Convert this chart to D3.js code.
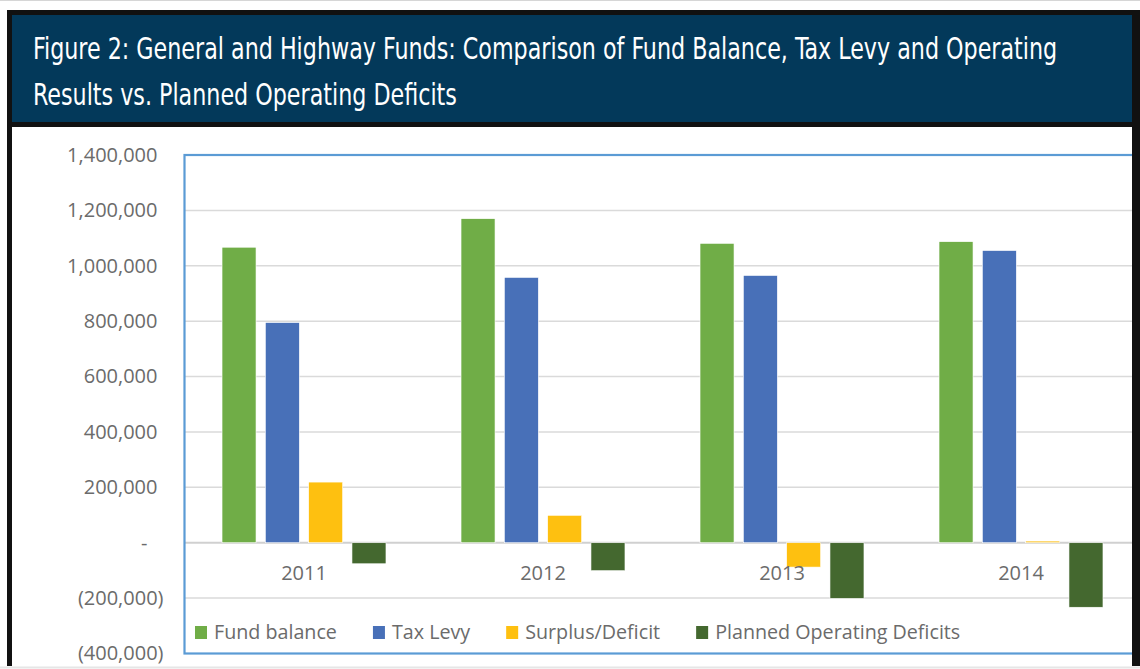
<!DOCTYPE html>
<html>
<head>
<meta charset="utf-8">
<script src="https://cdn.jsdelivr.net/npm/d3@7"></script>
<style>
  body { margin: 0; background: #fff; }
  svg { display: block; font-family: "Open Sans", sans-serif; }
</style>
</head>
<body>
<svg id="chart" width="1140" height="669"></svg>
<script>
// chart values
const years = ["2011", "2012", "2013", "2014"];
const seriesNames = ["Fund balance", "Tax Levy", "Surplus/Deficit", "Planned Operating Deficits"];
const fundBalance = [1067000, 1170000, 1081000, 1087000];
const taxLevy = [795000, 958000, 965000, 1055000];
const surplusDeficit = [219000, 99000, -88000, 6000];
const plannedDeficits = [-76000, -101000, -201000, -233000];
const yTicks = [-400000, -200000, 0, 200000, 400000, 600000, 800000, 1000000, 1200000, 1400000];
const seriesColors = ["#70ad47", "#4870b8", "#fec010", "#44682f"];
const titleLines = [
    "Figure 2: General and Highway Funds: Comparison of Fund Balance, Tax Levy and Operating",
    "Results vs. Planned Operating Deficits"
];

const seriesValues = [fundBalance, taxLevy, surplusDeficit, plannedDeficits];
const rows = years.map((yr, i) => ({
    year: yr,
    values: seriesNames.map((s, j) => ({ name: s, value: seriesValues[j][i] }))
}));

const svg = d3.select("#chart");
const plot = { left: 184.5, right: 1140.5, top: 155, bottom: 653.5 };

const x0 = d3.scaleBand().domain(years)
    .range([plot.left, plot.right])
    .paddingInner(0.314).paddingOuter(0.157);
const x1 = d3.scaleBand().domain(seriesNames)
    .range([0, x0.bandwidth()])
    .paddingInner(0.215);
const y = d3.scaleLinear().domain([-400000, 1400000]).range([plot.bottom, plot.top]);

// top page edge
svg.append("line").attr("x1", 0).attr("x2", 1140).attr("y1", 0.5).attr("y2", 0.5)
    .attr("stroke", "#d6d6d6");

// gridlines
svg.append("g").selectAll("line")
    .data(yTicks.filter(d => d > -400000 && d < 1400000))
    .join("line")
    .attr("x1", plot.left).attr("x2", plot.right)
    .attr("y1", d => y(d)).attr("y2", d => y(d))
    .attr("stroke", d => d === 0 ? "#d0d0d0" : "#dadada")
    .attr("stroke-width", d => d === 0 ? 2 : 1.5);

// bars
const groups = svg.append("g").selectAll("g")
    .data(rows)
    .join("g")
    .attr("transform", d => `translate(${x0(d.year)},0)`);

groups.selectAll("rect")
    .data(d => d.values)
    .join("rect")
    .attr("x", d => x1(d.name))
    .attr("width", x1.bandwidth())
    .attr("y", d => y(Math.max(0, d.value)))
    .attr("height", d => Math.abs(y(d.value) - y(0)))
    .attr("fill", (d, i) => seriesColors[i])
    .attr("stroke", "#fff").attr("stroke-width", 0.6);

// plot border
svg.append("rect")
    .attr("x", plot.left).attr("y", plot.top)
    .attr("width", plot.right - plot.left).attr("height", plot.bottom - plot.top)
    .attr("fill", "none").attr("stroke", "#5b9bd5").attr("stroke-width", 2.2);

// y axis labels (accounting style)
const fmt = d3.format(",");
const yAxis = svg.append("g")
    .attr("transform", `translate(${plot.left},0)`)
    .call(d3.axisLeft(y).tickValues(yTicks).tickSize(0).tickPadding(21)
        .tickFormat(d => d === 0 ? "-" : d < 0 ? `(${fmt(-d)})` : fmt(d)));
yAxis.select(".domain").remove();
yAxis.selectAll("text")
    .attr("font-family", "Open Sans, sans-serif")
    .attr("font-size", 20)
    .attr("fill", "#6b6b6b")
    .attr("dx", d => d === 0 ? -16 : d > 0 ? -6 : 0);

// x axis labels
const xAxis = svg.append("g")
    .attr("transform", `translate(0,${y(0)})`)
    .call(d3.axisBottom(x0).tickSize(0));
xAxis.select(".domain").remove();
xAxis.selectAll("text")
    .attr("y", 37).attr("dy", null)
    .attr("font-family", "Open Sans, sans-serif")
    .attr("font-size", 20)
    .attr("fill", "#6b6b6b");

// legend
const legend = svg.append("g").attr("transform", "translate(195,626)");
let lx = 0;
seriesNames.forEach((name, i) => {
    const item = legend.append("g").attr("transform", `translate(${lx},0)`);
    item.append("rect").attr("width", 12).attr("height", 13).attr("fill", seriesColors[i]);
    const t = item.append("text").attr("x", 19).attr("y", 12.5)
        .attr("font-size", 19.7).attr("fill", "#6b6b6b").text(name);
    lx += 19 + t.node().getComputedTextLength() + 36;
});

// title banner and frame
svg.append("rect")
    .attr("x", 9.5).attr("y", 12.5).attr("width", 1127).attr("height", 112)
    .attr("fill", "#03395a").attr("stroke", "#111").attr("stroke-width", 5);
svg.append("line").attr("x1", 9.5).attr("x2", 9.5).attr("y1", 124).attr("y2", 666)
    .attr("stroke", "#111").attr("stroke-width", 5);
svg.append("rect").attr("x", 1132).attr("y", 10).attr("width", 8).attr("height", 656)
    .attr("fill", "#111");
svg.append("line").attr("x1", 0).attr("x2", 1140).attr("y1", 667.5).attr("y2", 667.5)
    .attr("stroke", "#e6e6e6").attr("stroke-width", 2);

// title: condensed face, squeezed horizontally to the banner's text width
const titleFont = '"DejaVu Sans Condensed", "Liberation Sans Narrow", "Roboto", sans-serif';
const titleG = svg.append("g");
const titles = titleG.selectAll("text")
    .data(titleLines)
    .join("text")
    .attr("x", 0)
    .attr("y", (d, i) => 59 + i * 46)
    .style("font-family", titleFont)
    .attr("font-size", 31)
    .attr("fill", "#fff")
    .text(d => d);
const sx = 1025 / titles.node().getComputedTextLength();
titleG.attr("transform", `translate(33,0) scale(${sx},1)`);
</script>
</body>
</html>
